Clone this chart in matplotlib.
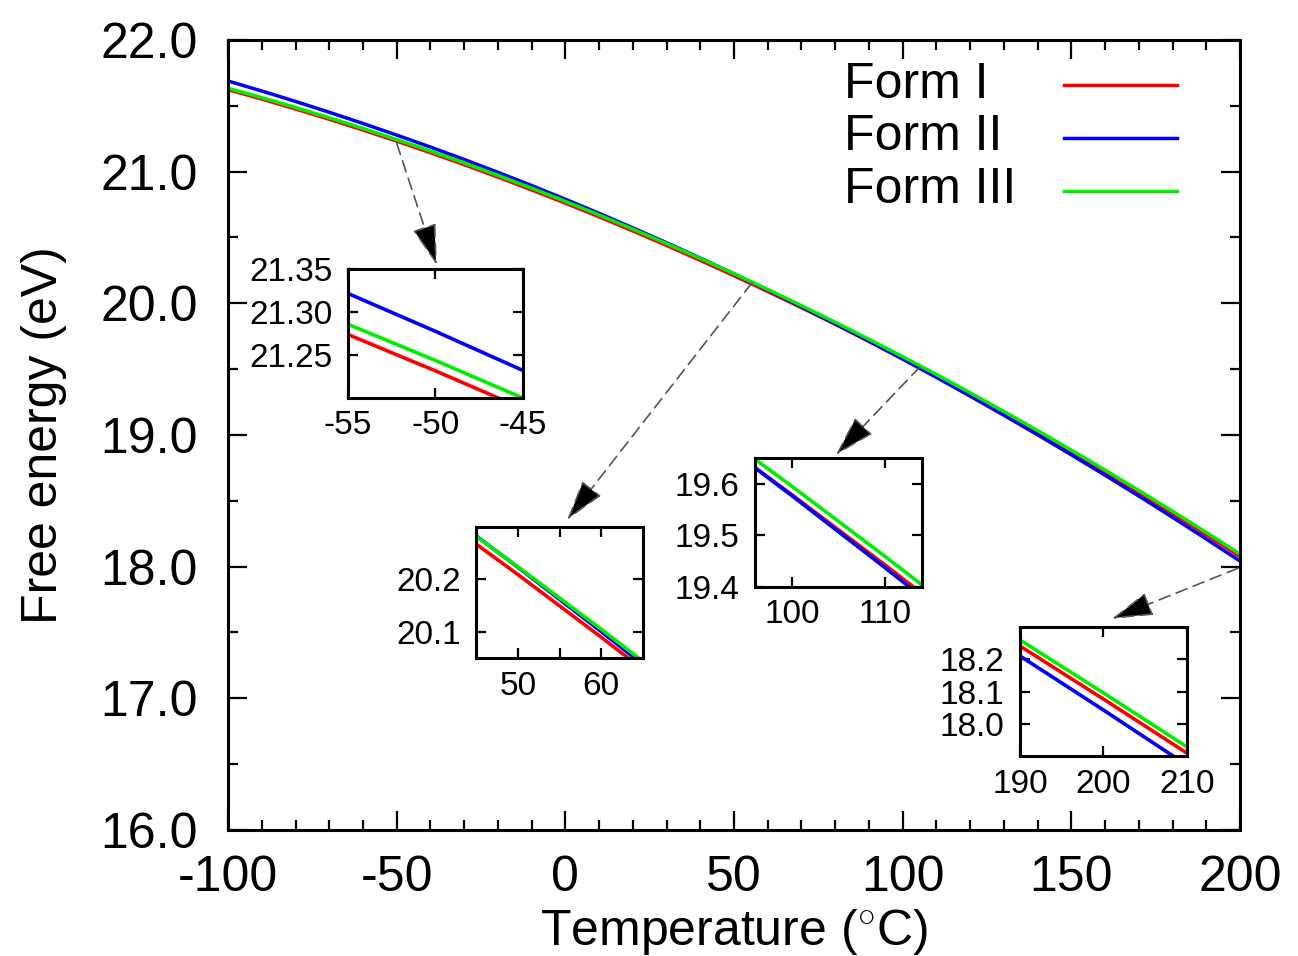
"""
plot.py
Free energy of three crystal forms versus temperature, with four zoomed
insets showing where the curves cross.
"""

import matplotlib
matplotlib.use('Agg')
from matplotlib import pyplot as plt
from matplotlib.ticker import MultipleLocator, FormatStrFormatter


# Temperature grid (deg C) and free energies (eV)
temps = [-100, -90, -80, -70, -60, -50, -40, -30, -20, -10,
         0, 10, 20, 30, 40, 50, 60, 70, 80, 90,
         100, 110, 120, 130, 140, 150, 160, 170, 180, 190, 200, 210]

form_1 = [21.6225, 21.5507, 21.4757, 21.3975, 21.3161, 21.2315, 21.1437, 21.0527,
          20.9585, 20.8611, 20.7605, 20.6567, 20.5497, 20.4395, 20.3261, 20.2095,
          20.0897, 19.9667, 19.8405, 19.7111, 19.5785, 19.4427, 19.3037, 19.1615,
          19.0161, 18.8675, 18.7157, 18.5607, 18.4025, 18.2411, 18.0765, 17.9087]

form_2 = [21.6885, 21.6122, 21.5332, 21.4510, 21.3656, 21.2775, 21.1865, 21.0923,
          20.9949, 20.8943, 20.7905, 20.6835, 20.5733, 20.4599, 20.3433, 20.2235,
          20.1005, 19.9743, 19.8449, 19.7123, 19.5765, 19.4375, 19.2953, 19.1499,
          19.0013, 18.8495, 18.6945, 18.5363, 18.3749, 18.2103, 18.0425, 17.8715]

form_3 = [21.6332, 21.5617, 21.4870, 21.4090, 21.3279, 21.2436, 21.1561, 21.0654,
          20.9714, 20.8743, 20.7740, 20.6705, 20.5638, 20.4538, 20.3407, 20.2244,
          20.1049, 19.9822, 19.8562, 19.7271, 19.5948, 19.4593, 19.3206, 19.1786,
          19.0335, 18.8852, 18.7337, 18.5790, 18.4210, 18.2599, 18.0956, 17.9281]

names = ['Form I', 'Form II', 'Form III']
colors = ['#ff0000', '#0000ff', '#00ee00']

# zoom windows: (xmin, xmax, ymin, ymax), x ticks, y ticks, y label format
zooms = [
    ((-55, -45, 21.20, 21.35), [-55, -50, -45], [21.25, 21.30, 21.35], '%.2f'),
    ((45, 65, 20.05, 20.30), [50, 60], [20.1, 20.2], '%.1f'),
    ((96, 114, 19.40, 19.65), [100, 110], [19.4, 19.5, 19.6], '%.1f'),
    ((190, 210, 17.90, 18.30), [190, 200, 210], [18.0, 18.1, 18.2], '%.1f'),
]

# arrows pointing from the curve to each inset: (start, end) in data units
arrows = [
    ((-50.0, 21.215), (-38.1, 20.290)),
    ((55.3, 20.155), (0.5, 18.354)),
    ((105.1, 19.517), (80.2, 18.848)),
    ((199.4, 17.988), (162.0, 17.603)),
]

plt.rcParams['font.family'] = ['Liberation Sans', 'DejaVu Sans']
plt.rcParams['mathtext.fontset'] = 'custom'
plt.rcParams['mathtext.rm'] = 'Liberation Sans'
plt.rcParams['axes.unicode_minus'] = False


def draw_curves(ax, lw):
    for values, name, color in zip([form_1, form_2, form_3], names, colors):
        ax.plot(temps, values, color=color, lw=lw, label=name)


def main():
    fig = plt.figure(figsize=(12.98, 9.56), dpi=100)
    ax = fig.add_axes([0.1757, 0.1318, 0.7796, 0.8264])

    draw_curves(ax, 2.5)
    ax.set_xlim(-100, 200)
    ax.set_ylim(16, 22)
    ax.xaxis.set_major_locator(MultipleLocator(50))
    ax.xaxis.set_minor_locator(MultipleLocator(10))
    ax.yaxis.set_major_locator(MultipleLocator(1))
    ax.yaxis.set_minor_locator(MultipleLocator(0.5))
    ax.yaxis.set_major_formatter(FormatStrFormatter('%.1f'))
    ax.tick_params(which='both', direction='in', top=True, right=True, width=1.6)
    ax.tick_params(which='major', length=14, labelsize=36)
    ax.tick_params(which='minor', length=7)
    ax.tick_params(axis='x', which='major', pad=18)
    ax.tick_params(axis='y', which='major', pad=22)
    for spine in ax.spines.values():
        spine.set_linewidth(2.2)

    ax.set_xlabel(r'Temperature ($^{\circ}$C)', fontsize=36, labelpad=4)
    ax.set_ylabel('Free energy (eV)', fontsize=36, labelpad=24)

    # gnuplot-style key: text on the left, sample line on the right
    text_y = [0.926, 0.861, 0.794]
    line_y = [0.943, 0.876, 0.809]
    for name, color, ty, ly in zip(names, colors, text_y, line_y):
        ax.text(0.609, ty, name, transform=ax.transAxes, fontsize=36,
                va='baseline', ha='left')
        ax.plot([0.826, 0.938], [ly, ly], transform=ax.transAxes,
                color=color, lw=2.5)

    for start, end in arrows:
        ax.annotate('', xy=end, xytext=start,
                    arrowprops=dict(arrowstyle='-|>,head_length=1.3,head_width=0.38',
                                    fc='black', ec='#555555', lw=1.2,
                                    ls=(0, (7, 4)), mutation_scale=20,
                                    shrinkA=0, shrinkB=0))

    boxes = [
        [0.2681, 0.5837, 0.1348, 0.1349],
        [0.3667, 0.3117, 0.1287, 0.1370],
        [0.5817, 0.3860, 0.1287, 0.1349],
        [0.7858, 0.2092, 0.1287, 0.1349],
    ]
    for box, (lims, xt, yt, yfmt) in zip(boxes, zooms):
        ins = fig.add_axes(box)
        draw_curves(ins, 2.6)
        ins.set_xlim(lims[0], lims[1])
        ins.set_ylim(lims[2], lims[3])
        ins.set_xticks(xt)
        ins.set_yticks(yt)
        if lims[0] == 45:
            ins.set_xticks([55], minor=True)
        ins.yaxis.set_major_formatter(FormatStrFormatter(yfmt))
        ins.tick_params(which='both', direction='in', top=True, right=True,
                        length=7, width=1.6, labelsize=24)
        ins.tick_params(axis='x', pad=9)
        ins.tick_params(axis='y', pad=11)
        for spine in ins.spines.values():
            spine.set_linewidth(2.2)

    fig.savefig('out.png', dpi=100)


if __name__ == "__main__":
    main()
